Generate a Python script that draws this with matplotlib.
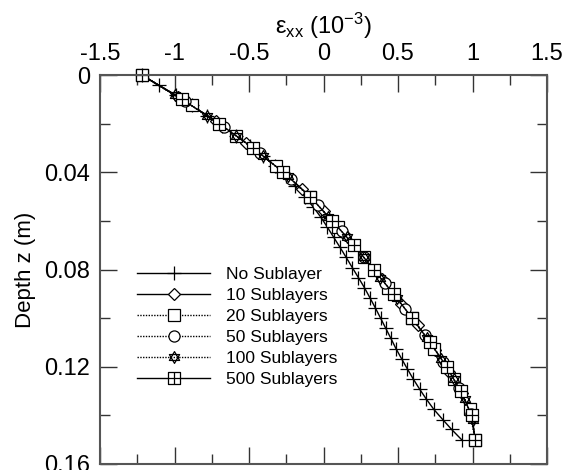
import matplotlib
matplotlib.use("Agg")
import matplotlib.pyplot as plt
from matplotlib.path import Path
from matplotlib.ticker import FixedLocator, MultipleLocator

plt.rcParams['font.family'] = ['Liberation Sans', 'DejaVu Sans']
plt.rcParams['mathtext.fontset'] = 'custom'
plt.rcParams['mathtext.rm'] = 'Liberation Sans'
plt.rcParams['mathtext.it'] = 'Liberation Sans:italic'
plt.rcParams['axes.unicode_minus'] = False

# depth (m) and strain (1e-3)
z_none = [0, .0042, .0083, .0125, .0167, .0208, .025, .0292, .0333, .0375, .0417, .0458,
          .05, .0542, .0583, .0625, .0667, .0708, .075, .0792, .0833, .0875, .0917, .0958,
          .1, .1042, .1083, .1125, .1167, .1208, .125, .1292, .1333, .1375, .1417, .1458, .15]
e_none = [-1.22, -1.105, -0.99, -0.885, -0.78, -0.68, -0.585, -0.49, -0.405, -0.325, -0.255, -0.19,
          -0.125, -0.07, -0.02, 0.025, 0.068, 0.11, 0.152, 0.193, 0.234, 0.275, 0.312, 0.348,
          0.383, 0.418, 0.452, 0.486, 0.524, 0.562, 0.602, 0.645, 0.69, 0.74, 0.80, 0.86, 0.927]

z_10 = [0, .009, .019, .028, .038, .047, .056, .066, .075, .084, .094, .103, .113, .122, .131, .141, .15]
e_10 = [-1.22, -0.977, -0.724, -0.518, -0.31, -0.142, 0.0, 0.147, 0.27, 0.39, 0.52, 0.632, 0.75,
        0.845, 0.929, 0.998, 1.017]

z_20 = [0, .0125, .025, .0375, .05, .0625, .075, .0875, .1, .1125, .125, .1375, .15]
e_20 = [-1.22, -0.885, -0.585, -0.32, -0.09, 0.095, 0.27, 0.436, 0.595, 0.744, 0.873, 0.98, 1.017]

z_50 = [0, .0107, .0214, .0321, .0429, .0536, .0643, .075, .0857, .0964, .1071, .1179, .1286, .1393, .15]
e_50 = [-1.22, -0.932, -0.668, -0.429, -0.216, -0.036, 0.121, 0.27, 0.412, 0.55, 0.681, 0.805,
        0.908, 0.991, 1.017]

z_100 = [0, .0083, .0167, .025, .0333, .0417, .05, .0583, .0667, .075, .0833, .0917, .1, .1083,
         .1167, .125, .1333, .1417, .15]
e_100 = [-1.22, -0.995, -0.78, -0.585, -0.404, -0.238, -0.09, 0.033, 0.157, 0.27, 0.381, 0.492,
         0.595, 0.696, 0.791, 0.873, 0.95, 1.0, 1.017]

z_500 = [0, .01, .02, .03, .04, .05, .06, .07, .08, .09, .1, .11, .12, .13, .14, .15]
e_500 = [-1.22, -0.95, -0.70, -0.473, -0.27, -0.09, 0.058, 0.205, 0.336, 0.47, 0.595, 0.715,
         0.826, 0.92, 0.995, 1.017]

labels = ['No Sublayer', '10 Sublayers', '20 Sublayers', '50 Sublayers', '100 Sublayers', '500 Sublayers']

x_ticks = [-1.5, -1, -0.5, 0, 0.5, 1, 1.5]
x_ticklabels = ['-1.5', '-1', '-0.5', '0', '0.5', '1', '1.5']
y_ticks = [0, 0.04, 0.08, 0.12, 0.16]
y_ticklabels = ['0', '0.04', '0.08', '0.12', '0.16']

# custom markers: star of david and boxed plus
hexagram = Path([(0, 1), (-0.866, -0.5), (0.866, -0.5), (0, 1),
                 (0, -1), (-0.866, 0.5), (0.866, 0.5), (0, -1)],
                [Path.MOVETO, Path.LINETO, Path.LINETO, Path.CLOSEPOLY,
                 Path.MOVETO, Path.LINETO, Path.LINETO, Path.CLOSEPOLY])
boxplus = Path([(-1, -1), (1, -1), (1, 1), (-1, 1), (-1, -1),
                (0, -1), (0, 1), (-1, 0), (1, 0)],
               [Path.MOVETO, Path.LINETO, Path.LINETO, Path.LINETO, Path.CLOSEPOLY,
                Path.MOVETO, Path.LINETO, Path.MOVETO, Path.LINETO])

fig = plt.figure(figsize=(5.73, 4.70), dpi=100)
ax = fig.add_axes([100 / 573, 6 / 470, 447 / 573, 389 / 470])

dot = (0, (1, 1))
series = [
    (e_none, z_none, '+', '-', 10),
    (e_10, z_10, 'D', '-', 6.5),
    (e_20, z_20, 's', dot, 8),
    (e_50, z_50, 'o', dot, 8),
    (e_100, z_100, hexagram, dot, 8.5),
    (e_500, z_500, boxplus, '-', 8),
]
for (e, z, m, ls, ms), lab in zip(series, labels):
    ax.plot(e, z, color='black', linestyle=ls, linewidth=1.0, marker=m, markersize=ms,
            markerfacecolor='white', markeredgecolor='black', markeredgewidth=0.9,
            label=lab, clip_on=False)

ax.set_xlim(-1.5, 1.5)
ax.set_ylim(0.16, 0)
ax.xaxis.set_major_locator(FixedLocator(x_ticks))
ax.set_xticklabels(x_ticklabels)
ax.xaxis.set_minor_locator(MultipleLocator(0.25))
ax.yaxis.set_major_locator(FixedLocator(y_ticks))
ax.set_yticklabels(y_ticklabels)
ax.yaxis.set_minor_locator(MultipleLocator(0.02))

ax.tick_params(which='both', direction='in', top=True, right=True, bottom=True, left=True,
               labeltop=True, labelbottom=False, color='#333333', width=1)
ax.tick_params(which='major', length=12, labelsize=17, pad=7)
ax.tick_params(which='minor', length=7)
for sp in ax.spines.values():
    sp.set_color('#555555')
    sp.set_linewidth(1.5)

ax.xaxis.set_label_position('top')
ax.set_xlabel(r'ε$_{\mathrm{xx}}$ (10$^{\mathrm{-3}}$)', fontsize=17, labelpad=7)
ax.set_ylabel('Depth z (m)', fontsize=16, labelpad=6)

ax.legend(loc='upper left', bbox_to_anchor=(0.083, 0.507), frameon=False, fontsize=12.5,
          handlelength=4.2, handletextpad=0.9, labelspacing=0.34, borderpad=0,
          borderaxespad=0, numpoints=1)

fig.savefig('out.png', dpi=100)
